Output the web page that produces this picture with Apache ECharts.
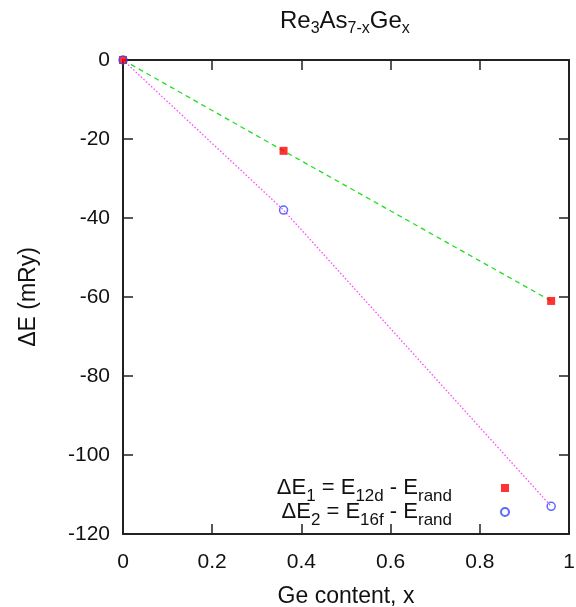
<!DOCTYPE html>
<html>
<head>
<meta charset="utf-8">
<script src="https://cdn.jsdelivr.net/npm/echarts@6/dist/echarts.min.js"></script>
<style>
html,body{margin:0;padding:0;background:#fff;}
#chart{width:576px;height:607px;}
</style>
</head>
<body>
<div id="chart"></div>
<script>
// Data
var geContent = [0, 0.36, 0.96];
var dE1 = [0, -23, -61];     // ΔE1 = E12d - Erand
var dE2 = [0, -38, -113];    // ΔE2 = E16f - Erand
var xTicks = ['0', '0.2', '0.4', '0.6', '0.8', '1'];
var yTicks = ['-120', '-100', '-80', '-60', '-40', '-20', '0'];

function pairs(xs, ys) { return xs.map(function (x, i) { return [x, ys[i]]; }); }

var FONT = 'Liberation Sans';
var AXC = '#222';
var TXT = '#111';

var chart = echarts.init(document.getElementById('chart'), null, {renderer: 'canvas'});

var legendRich = {
  n: {fontSize: 22, lineHeight: 22, padding: [0, 0, 14, 0], verticalAlign: 'top', fontFamily: FONT, color: TXT},
  s: {fontSize: 17, lineHeight: 17, padding: [11, 0, 0, 0], verticalAlign: 'top', fontFamily: FONT, color: TXT},
  e: {fontSize: 17, lineHeight: 17, padding: [11, 44, 0, 0], verticalAlign: 'top', fontFamily: FONT, color: TXT}
};

function baseAxisX(pos, showLabel) {
  return {
    type: 'value', position: pos, min: 0, max: 1, interval: 0.2,
    axisLine: {show: true, onZero: false, lineStyle: {color: AXC, width: 2}},
    axisTick: {show: true, inside: true, length: 10, lineStyle: {color: AXC, width: 1.5}},
    splitLine: {show: false},
    axisLabel: {show: showLabel, fontSize: 21, fontFamily: FONT, color: TXT, margin: 18,
      formatter: function (v) { return xTicks[Math.round(v / 0.2)]; }}
  };
}
function baseAxisY(pos, showLabel) {
  return {
    type: 'value', position: pos, min: -120, max: 0, interval: 20,
    axisLine: {show: true, onZero: false, lineStyle: {color: AXC, width: 2}},
    axisTick: {show: true, inside: true, length: 10, lineStyle: {color: AXC, width: 1.5}},
    splitLine: {show: false},
    axisLabel: {show: showLabel, fontSize: 21, fontFamily: FONT, color: TXT, margin: 13,
      formatter: function (v) { return yTicks[Math.round((v + 120) / 20)]; }}
  };
}

var xb = baseAxisX('bottom', true);
xb.name = 'Ge content, x';
xb.nameLocation = 'middle';
xb.nameGap = 51;
xb.nameTextStyle = {fontSize: 23, fontFamily: FONT, color: TXT};
var xt = baseAxisX('top', false);
var yl = baseAxisY('left', true);
yl.name = 'ΔE (mRy)';
yl.nameLocation = 'middle';
yl.nameGap = 83;
yl.nameTextStyle = {fontSize: 23, fontFamily: FONT, color: TXT};
var yr = baseAxisY('right', false);

chart.setOption({
  backgroundColor: '#fff',
  animation: false,
  title: {
    text: '{n|Re}{s|3}{n|As}{s|7-x}{n|Ge}{s|x}',
    left: 280, top: 9, padding: 0,
    textStyle: {
      fontWeight: 'normal',
      rich: {
        n: {fontSize: 24, lineHeight: 24, verticalAlign: 'top', fontFamily: FONT, fontWeight: 'normal', color: TXT},
        s: {fontSize: 16, lineHeight: 16, padding: [12, 0, 0, 0], verticalAlign: 'top', fontFamily: FONT, fontWeight: 'normal', color: TXT}
      }
    }
  },
  grid: {left: 123, right: 7, top: 60, bottom: 73, containLabel: false, outerBoundsMode: 'none'},
  xAxis: [xb, xt],
  yAxis: [yl, yr],
  legend: {
    orient: 'vertical', align: 'right', right: 66, top: 477, padding: 0,
    itemWidth: 8, itemHeight: 8, itemGap: -12,
    data: ['dE1', 'dE2'],
    formatter: function (name) {
      return name === 'dE1'
        ? '{n|ΔE}{s|1}{n| = E}{s|12d}{n| - E}{e|rand}'
        : '{n|ΔE}{s|2}{n| = E}{s|16f}{n| - E}{e|rand}';
    },
    textStyle: {rich: legendRich}
  },
  series: [
    {
      type: 'line', name: 'fit1', xAxisIndex: 0, yAxisIndex: 0,
      data: pairs(geContent, dE1), showSymbol: false, symbol: 'none',
      lineStyle: {color: '#22dd22', width: 1.3, type: [5, 4]}, z: 2
    },
    {
      type: 'line', name: 'fit2', xAxisIndex: 0, yAxisIndex: 0,
      data: pairs(geContent, dE2), showSymbol: false, symbol: 'none',
      lineStyle: {color: '#ff44ff', width: 1.3, type: [1.5, 2]}, z: 2
    },
    {
      type: 'scatter', name: 'dE1', xAxisIndex: 0, yAxisIndex: 0,
      data: pairs(geContent, dE1), symbol: 'rect', symbolSize: 8,
      itemStyle: {color: '#ff0000'}, z: 3
    },
    {
      type: 'scatter', name: 'dE2', xAxisIndex: 0, yAxisIndex: 0,
      data: pairs(geContent, dE2), symbol: 'circle', symbolSize: 8,
      itemStyle: {color: 'rgba(0,0,0,0)', borderColor: '#3344ff', borderWidth: 1.5}, z: 4
    }
  ]
});
</script>
</body>
</html>
